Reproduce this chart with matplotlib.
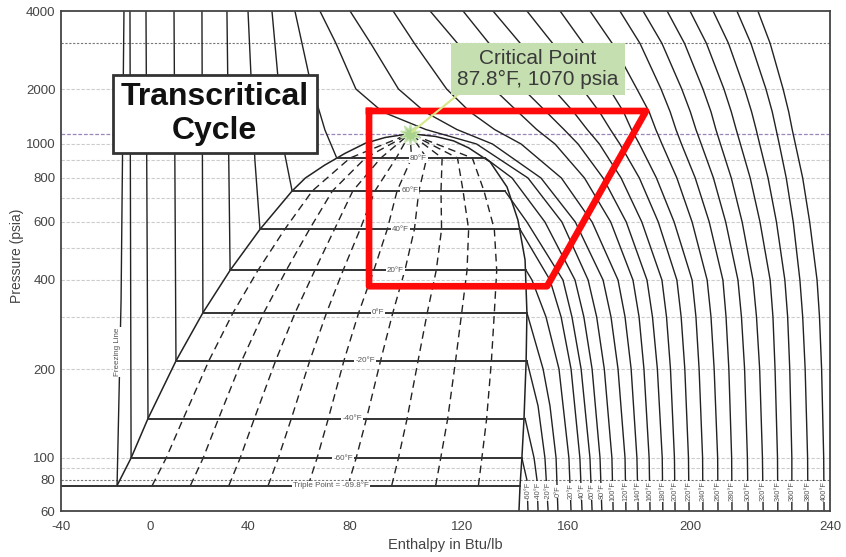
import matplotlib
matplotlib.use("Agg")
import matplotlib.pyplot as plt
import numpy as np
from matplotlib.ticker import NullLocator

plt.rcParams['font.family'] = ['Liberation Sans', 'DejaVu Sans']

# the chart's axes are not drawn to a uniform scale: tick positions measured on it
h_ticks = [-40, 0, 40, 80, 120, 160, 200, 240]
h_tick_px = [61, 150, 248, 350, 462, 568, 690, 830]
p_ticks = [60, 80, 100, 200, 400, 600, 800, 1000, 2000, 4000]
p_tick_px = [511, 480, 458, 369, 280, 222, 178, 144, 89, 11]

# saturation dome (liquid side up to the critical point, then vapour side down)
dome_h = [-14.8, -8.5, -0.9, 10.6, 21.6, 32.7, 44.7, 57.3, 62.5, 70.0, 78.0, 85.5, 92.5, 101.4,
          110.5, 117.0, 122.5, 130.6, 137.0, 141.1, 143.8, 144.5, 144.2, 143.4, 142.6, 141.9, 141.5]
dome_p = [76, 100, 136, 213, 310, 428, 570, 735, 800, 870, 940, 1010, 1085, 1140,
          1100, 1040, 975, 889, 754, 608, 460, 310, 213, 136, 100, 76, 60]
crit_h = 101.4
crit_p = 1140

# saturated isotherms inside the dome
sat_temps = [80, 60, 40, 20, 0, -20, -40, -60]
sat_p = [912, 735, 570, 428, 310, 213, 136, 100]
sat_h_liq = [74.8, 57.3, 44.7, 32.7, 21.6, 10.6, -0.9, -8.5]
sat_h_vap = [128.8, 136.2, 141.9, 144.2, 144.5, 144.5, 143.8, 142.6]
sat_label_h = [104.3, 101.4, 97.9, 96.1, 90.0, 85.4, 80.7, 77.3]
triple_p = 76
triple_h = [-40, 141.9]
triple_label_h = 72.5

# liquid isotherms rising from the dome
liq_h = [[-8.5, -9.0], [-0.9, -1.8], [10.6, 9.8], [21.6, 21.2], [32.7, 31.4],
         [44.7, 42.7, 40.0], [57.3, 54.5, 49.4], [74.8, 70.2, 64.3, 58.4]]
liq_p = [[100, 4000], [136, 4000], [213, 4000], [310, 4000], [428, 4000],
         [570, 900, 4000], [735, 930, 4000], [912, 1190, 2170, 4000]]
freeze_h = [-14.8, -13.0, -11.7]
freeze_p = [76, 342, 4000]

# vapour isotherms below saturation
vap_temps = [-60, -40, -20, 0, 20, 40, 60, 80]
vap_h = [[142.6, 144.5, 144.9],
         [143.8, 147.2, 148.3, 148.7],
         [144.5, 148.7, 151.3, 152.5],
         [144.5, 150.6, 153.2, 155.5, 156.2],
         [144.2, 146.4, 151.7, 156.6, 160.3, 161.0],
         [141.9, 153.2, 157.4, 161.0, 163.9, 164.6],
         [136.2, 144.5, 158.1, 161.3, 164.3, 167.2, 167.9],
         [128.8, 138.9, 151.3, 162.3, 165.2, 167.9, 170.5, 171.1]]
vap_p = [[100, 80, 60],
         [136, 100, 80, 60],
         [213, 150, 100, 60],
         [310, 200, 150, 100, 60],
         [428, 400, 300, 200, 100, 60],
         [570, 400, 300, 200, 100, 60],
         [735, 600, 400, 300, 200, 100, 60],
         [912, 800, 600, 400, 300, 200, 100, 60]]

# supercritical isotherms
p_grid = [4000, 3000, 2000, 1500, 1200, 1000, 800, 600, 400, 300, 200, 100, 60]
super_temps = [100, 120, 140, 160, 180, 200, 220, 240, 260, 280, 300, 320, 340, 360, 380, 400]
super_h = [
    [68.2, 74.5, 82.1, 91.6, 107.1, 125.5, 144.9, 157.7, 166.6, 169.4, 171.9, 174.4, 174.8],
    [80.0, 87.4, 97.3, 106.7, 118.2, 131.5, 149.8, 162.4, 171.5, 174.1, 176.4, 178.7, 179.0],
    [95.4, 103.0, 114.5, 123.0, 132.3, 142.3, 157.5, 167.9, 176.4, 178.7, 180.7, 182.6, 183.0],
    [108.6, 118.4, 132.0, 141.1, 148.2, 155.1, 165.4, 174.0, 181.3, 183.3, 184.9, 186.6, 186.9],
    [120.4, 130.2, 143.1, 151.8, 158.5, 163.3, 171.5, 179.1, 185.9, 187.7, 189.3, 190.9, 191.1],
    [131.7, 142.0, 154.4, 161.8, 166.3, 170.3, 177.4, 184.2, 190.8, 192.3, 193.6, 194.9, 195.1],
    [144.5, 154.2, 164.7, 170.3, 173.9, 177.0, 183.4, 189.6, 195.7, 197.1, 198.3, 199.5, 199.7],
    [157.0, 165.0, 173.6, 178.2, 180.8, 183.4, 189.0, 194.8, 200.6, 201.7, 202.6, 203.6, 203.7],
    [167.2, 174.5, 182.6, 186.6, 188.8, 190.8, 195.7, 200.6, 204.9, 206.0, 206.9, 207.9, 208.0],
    [177.0, 183.6, 190.5, 193.5, 195.4, 197.2, 201.5, 205.5, 209.4, 210.3, 211.1, 211.9, 212.0],
    [184.6, 190.8, 197.3, 200.1, 201.7, 203.2, 206.7, 210.2, 213.7, 214.7, 215.6, 216.4, 216.6],
    [192.5, 198.2, 203.7, 206.0, 207.4, 208.7, 211.8, 214.9, 218.0, 219.0, 219.9, 220.7, 220.9],
    [200.0, 204.7, 209.7, 211.8, 213.2, 214.4, 217.2, 220.0, 222.9, 223.7, 224.3, 225.0, 225.1],
    [206.6, 211.0, 215.6, 217.6, 218.9, 219.9, 222.3, 224.7, 227.1, 227.9, 228.5, 229.1, 229.1],
    [213.4, 217.4, 221.7, 223.5, 224.6, 225.5, 227.5, 229.5, 231.4, 232.2, 232.9, 233.6, 233.7],
    [219.4, 222.9, 226.6, 228.2, 229.2, 230.1, 232.2, 234.2, 236.3, 237.0, 237.6, 238.2, 238.3],
]

# constant quality lines (dashed), 10% .. 90%
q_p = [76, 100, 136, 213, 310, 428, 570, 735, 912, 1140]
q_h = [
    [0.9, 6.6, 13.6, 24.0, 33.9, 43.9, 54.4, 65.2, 80.0, 101.4],
    [16.5, 21.7, 28.0, 37.4, 46.2, 55.0, 64.1, 73.1, 85.5, 101.4],
    [32.2, 36.8, 42.5, 50.8, 58.5, 66.2, 73.9, 81.0, 91.0, 101.4],
    [47.9, 51.9, 57.0, 64.2, 70.8, 77.3, 83.6, 88.9, 96.5, 101.4],
    [63.6, 67.1, 71.5, 77.6, 83.1, 88.5, 93.3, 96.8, 102.0, 101.4],
    [79.2, 82.2, 85.9, 90.9, 95.3, 99.6, 103.0, 104.6, 107.4, 101.4],
    [94.9, 97.3, 100.4, 104.3, 107.6, 110.8, 112.7, 112.5, 112.9, 101.4],
    [110.6, 112.4, 114.9, 117.7, 119.9, 121.9, 122.5, 120.4, 118.4, 101.4],
    [126.2, 127.5, 129.3, 131.1, 132.2, 133.1, 132.2, 128.3, 123.9, 101.4],
]

# horizontal grid lines
grid_p = [2000, 1000, 900, 800, 700, 600, 500, 400, 300, 200, 100, 90]
grid_dark_p = [3000, 80]

# transcritical cycle outline
cycle_h = [86.8, 185.6, 152.1, 86.8, 86.8]
cycle_p = [1516, 1516, 381, 381, 1516]

bottom_label_p = 72
freeze_label = (-14.8, 228)


def h_fwd(h):
    return np.interp(np.asarray(h, float), h_ticks, h_tick_px)


def h_inv(v):
    return np.interp(np.asarray(v, float), h_tick_px, h_ticks)


log_p = np.log10(p_ticks)
neg_px = [-v for v in p_tick_px]


def p_fwd(p):
    return np.interp(np.log10(np.clip(np.asarray(p, float), 1e-6, None)), log_p, neg_px)


def p_inv(v):
    return 10 ** np.interp(np.asarray(v, float), neg_px, log_p)


fig = plt.figure(figsize=(8.46, 5.57), dpi=100)
ax = fig.add_axes([61 / 846, 1 - 511 / 557, 769 / 846, 500 / 557])
ax.set_xscale('function', functions=(h_fwd, h_inv))
ax.set_yscale('function', functions=(p_fwd, p_inv))
ax.set_xlim(-40, 240)
ax.set_ylim(60, 4000)

line_c = '#222222'
small = dict(fontsize=5.8, color='#555555', ha='center', va='center', zorder=4,
             bbox=dict(boxstyle='square,pad=0.12', fc='white', ec='none'))

for p in grid_p:
    ax.axhline(p, color='#cccccc', lw=0.8, ls=(0, (3, 1.5)), zorder=1)
for p in grid_dark_p:
    ax.axhline(p, color='#777777', lw=0.8, ls=(0, (2, 1.5)), zorder=1)
ax.axhline(crit_p, color='#9b86b8', lw=0.9, ls=(0, (3, 1.5)), zorder=1)

ax.plot(dome_h, dome_p, color=line_c, lw=1.1, zorder=2)
ax.plot(freeze_h, freeze_p, color=line_c, lw=1.0, zorder=2)
for hs, ps in zip(liq_h, liq_p):
    ax.plot(hs, ps, color=line_c, lw=1.0, zorder=2)
for hs, ps in zip(vap_h, vap_p):
    ax.plot(hs, ps, color=line_c, lw=1.0, zorder=2)
for hs in super_h:
    ax.plot(hs, p_grid, color=line_c, lw=1.0, zorder=2)
for hs in q_h:
    ax.plot(hs, q_p, color=line_c, lw=1.0, ls=(0, (5.5, 3.5)), zorder=2)

for t, p, hl, hv, hlab in zip(sat_temps, sat_p, sat_h_liq, sat_h_vap, sat_label_h):
    ax.plot([hl, hv], [p, p], color='#333333', lw=1.4, zorder=2)
    ax.text(hlab, p, f'{t}°F', **small)
ax.plot(triple_h, [triple_p, triple_p], color='#333333', lw=1.4, zorder=2)
ax.text(triple_label_h, triple_p, 'Triple Point = -69.8°F', **small)
ax.text(freeze_label[0], freeze_label[1], 'Freezing Line', rotation=90, **small)

bottom_small = dict(small, fontsize=5.3)
for t, hs in zip(vap_temps + super_temps, vap_h + super_h):
    ax.text(hs[-1], bottom_label_p, f'{t}°F', rotation=90, **bottom_small)

ax.plot(cycle_h, cycle_p, color='#ff0a0a', lw=4.8, solid_joinstyle='round', zorder=5)

ax.plot([crit_h], [crit_p], marker=(10, 1, 0), ms=15, color='#a9d38c',
        mec='#c6e3b0', mew=1, zorder=6)
ax.annotate('Critical Point\n87.8°F, 1070 psia', xy=(crit_h, crit_p),
            xytext=(0.62, 0.884), textcoords='axes fraction', ha='center', va='center',
            fontsize=15, color='#3a3a3a', linespacing=1.1, zorder=7,
            bbox=dict(boxstyle='square,pad=0.3', fc='#c5dfb0', ec='none'),
            arrowprops=dict(arrowstyle='-', color='#d6e88a', lw=1.5, relpos=(0.05, 0),
                            shrinkA=0, shrinkB=2))

ax.text(0.2, 0.794, 'Transcritical\nCycle', transform=ax.transAxes, ha='center',
        va='center', fontsize=23, fontweight='bold', color='#111111', linespacing=1.15,
        multialignment='center', zorder=7,
        bbox=dict(boxstyle='square,pad=0.24', fc='white', ec='#333333', lw=2))

ax.set_xticks(h_ticks)
ax.set_xticklabels([str(v) for v in h_ticks])
ax.set_yticks(p_ticks)
ax.set_yticklabels([str(v) for v in p_ticks])
ax.xaxis.set_minor_locator(NullLocator())
ax.yaxis.set_minor_locator(NullLocator())
ax.tick_params(length=0, labelsize=9.5, colors='#444444')
ax.tick_params(axis='x', pad=7)
ax.tick_params(axis='y', pad=4)
for s in ax.spines.values():
    s.set_color('#444444')
    s.set_linewidth(1.3)

ax.set_xlabel('Enthalpy in Btu/lb', fontsize=10.5, color='#444444')
ax.set_ylabel('Pressure (psia)', fontsize=10, color='#444444')
ax.xaxis.set_label_coords(0.5, -0.054)
ax.yaxis.set_label_coords(-0.048, 0.51)

fig.savefig('out.png', dpi=100)
